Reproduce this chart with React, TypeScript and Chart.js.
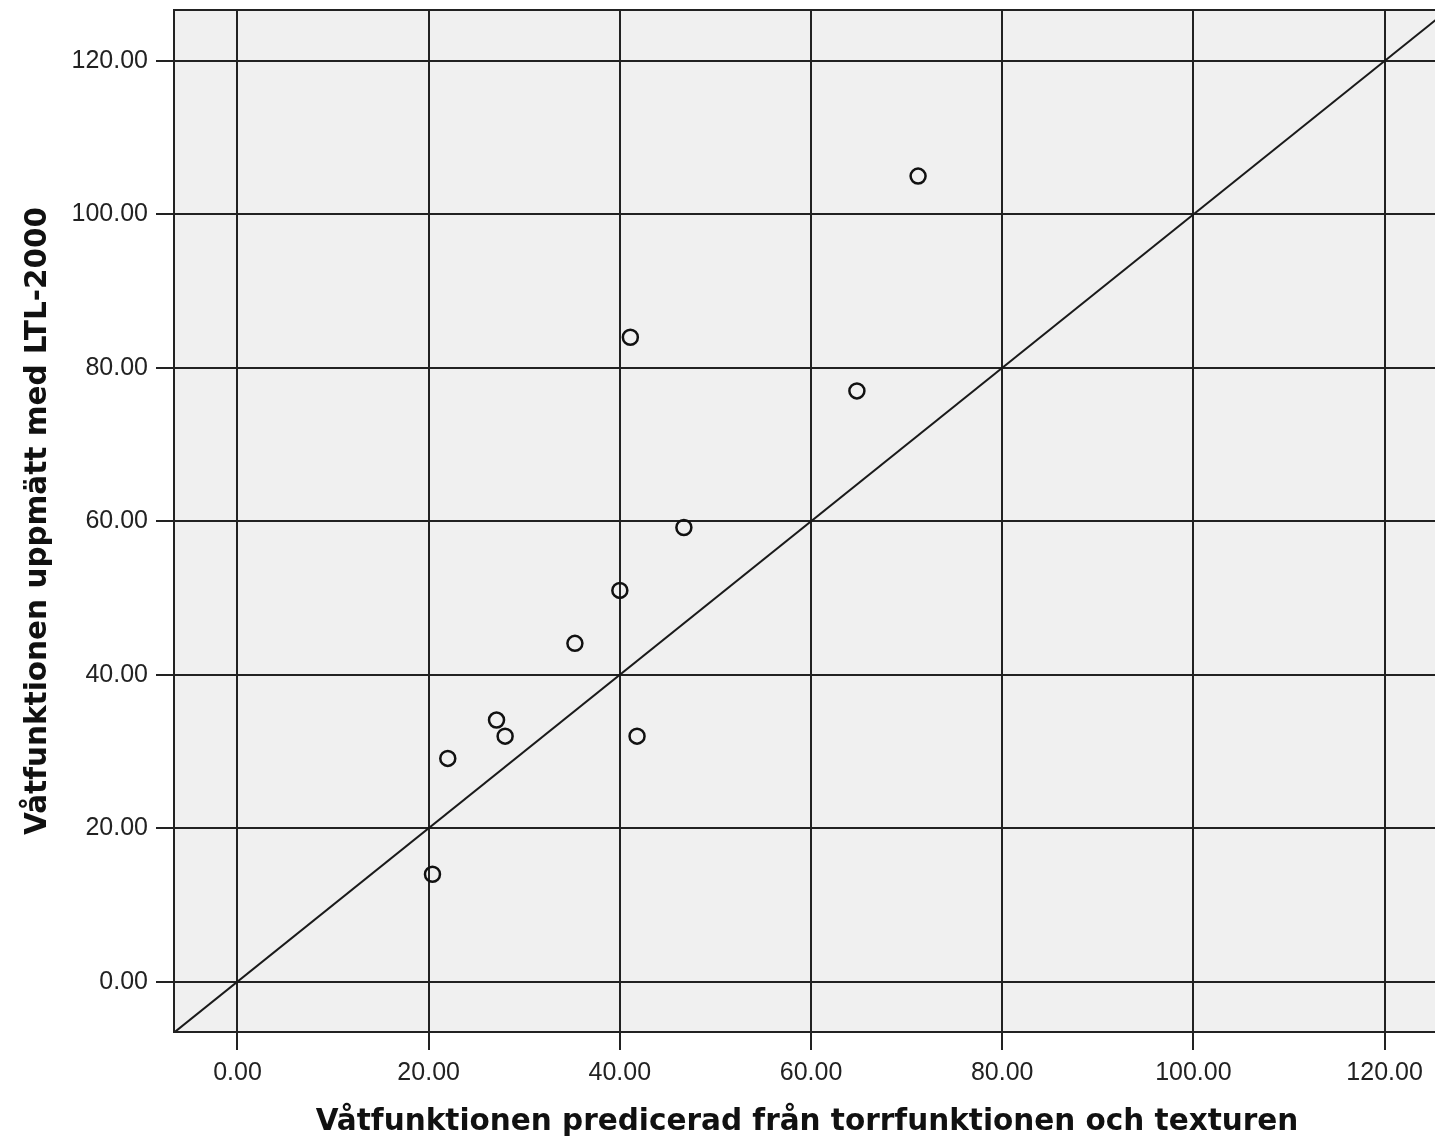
import React, { useEffect, useRef } from "react";
import { Chart, registerables } from "chart.js";

Chart.register(...registerables);

const predicted = [20.4, 22.0, 27.1, 28.0, 35.3, 40.0, 41.8, 46.7, 41.1, 64.8, 71.2];
const measured = [14.0, 29.1, 34.1, 32.0, 44.1, 51.0, 32.0, 59.2, 84.0, 77.0, 105.0];
const refLine = [-10, 130];
const xTitle = "Våtfunktionen predicerad från torrfunktionen och texturen";
const yTitle = "Våtfunktionen uppmätt med LTL-2000";

const GRID = "#222222";

const framePlugin = {
  id: "frame",
  beforeDraw(chart: any) {
    const { ctx, chartArea } = chart;
    ctx.save();
    ctx.fillStyle = "#f0f0f0";
    ctx.fillRect(chartArea.left, chartArea.top, chartArea.right - chartArea.left, chartArea.bottom - chartArea.top);
    ctx.restore();
  },
  afterDraw(chart: any) {
    const { ctx, chartArea } = chart;
    ctx.save();
    ctx.strokeStyle = GRID;
    ctx.lineWidth = 2;
    ctx.strokeRect(chartArea.left, chartArea.top, chartArea.right - chartArea.left, chartArea.bottom - chartArea.top);
    ctx.restore();
  },
};

export default function App() {
  const ref = useRef<HTMLCanvasElement | null>(null);
  useEffect(() => {
    document.body.style.margin = "0";
    document.body.style.background = "#ffffff";
    if (!ref.current) return;
    const chart = new Chart(ref.current, {
      type: "scatter",
      data: {
        datasets: [
          {
            type: "line",
            data: refLine.map((v) => ({ x: v, y: v })),
            borderColor: "#1a1a1a",
            borderWidth: 2,
            pointRadius: 0,
            fill: false,
          } as any,
          {
            data: predicted.map((x, i) => ({ x, y: measured[i] })),
            pointStyle: "circle",
            pointRadius: 7.5,
            borderWidth: 2.5,
            borderColor: "#111111",
            backgroundColor: "rgba(0,0,0,0)",
          },
        ],
      },
      plugins: [framePlugin],
      options: {
        responsive: false,
        animation: false,
        devicePixelRatio: 1,
        layout: { padding: { left: 0, right: 0, top: 10, bottom: 0 } },
        plugins: { legend: { display: false }, tooltip: { enabled: false } },
        scales: {
          x: {
            type: "linear",
            min: -6.64,
            max: 125.8,
            afterFit(scale: any) {
              scale.height = 111;
              scale.paddingLeft = 0;
              scale.paddingRight = 0;
            },
            ticks: {
              stepSize: 20,
              includeBounds: false,
              padding: 8,
              color: "#222",
              font: { family: "'Liberation Sans', Arial, sans-serif", size: 25 },
              callback: (v: any) => Number(v).toFixed(2),
              maxRotation: 0,
            },
            grid: { color: GRID, lineWidth: 2, tickLength: 18, tickColor: GRID },
            border: { display: true, color: GRID, width: 2 },
            title: {
              display: true,
              text: xTitle,
              color: "#111",
              font: { family: "'DejaVu Sans', sans-serif", size: 29.5, weight: "bold" },
              padding: { top: 0, bottom: 3 },
            },
          },
          y: {
            type: "linear",
            min: -6.56,
            max: 126.65,
            afterFit(scale: any) {
              scale.width = 174;
              scale.paddingTop = 0;
              scale.paddingBottom = 0;
            },
            ticks: {
              stepSize: 20,
              includeBounds: false,
              padding: 8,
              color: "#222",
              font: { family: "'Liberation Sans', Arial, sans-serif", size: 25 },
              callback: (v: any) => Number(v).toFixed(2),
            },
            grid: { color: GRID, lineWidth: 2, tickLength: 18, tickColor: GRID },
            border: { display: true, color: GRID, width: 2 },
            title: {
              display: true,
              text: yTitle,
              color: "#111",
              font: { family: "'DejaVu Sans', sans-serif", size: 29.5, weight: "bold" },
              padding: { top: 21, bottom: 0 },
            },
          },
        },
      },
    });
    return () => chart.destroy();
  }, []);
  return (
    <div style={{ width: 1435, height: 1143, overflow: "hidden", position: "relative" }}>
      <canvas ref={ref} width={1450} height={1143} style={{ display: "block", width: 1450, height: 1143 }} />
    </div>
  );
}
